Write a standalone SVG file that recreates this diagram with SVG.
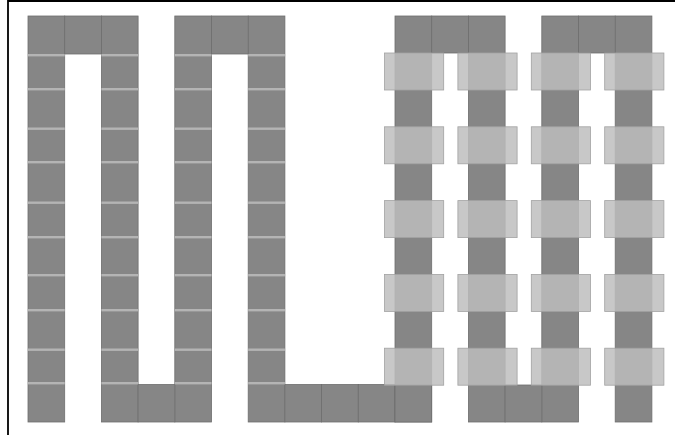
<svg xmlns="http://www.w3.org/2000/svg" width="675" height="435" viewBox="0 0 675 435">
  <style>
    .blk { fill: #868686; stroke: #6e6e6e; stroke-width: 0.8; }
    .lt { fill: #b4b4b4; }
    .ov { fill: #bdbdbd; fill-opacity: 0.84; stroke: #a2a2a2; stroke-width: 0.8; }
  </style>
  <rect x="0" y="0" width="675" height="435" fill="#ffffff"/>
  <path d="M8,435 V1 H675" fill="none" stroke="#000000" stroke-width="1.8"/>

  <g id="left-serpentine">
    <rect class="blk" x="28" y="16" width="36.7" height="406"/>
    <rect class="blk" x="101.4" y="16" width="36.7" height="406"/>
    <rect class="blk" x="174.8" y="16" width="36.7" height="406"/>
    <rect class="blk" x="248.2" y="16" width="36.7" height="406"/>
    <rect class="blk" x="64.7" y="16" width="36.7" height="38"/>
    <rect class="blk" x="138.1" y="384.5" width="36.7" height="37.5"/>
    <rect class="blk" x="211.5" y="16" width="36.7" height="38"/>
    <rect class="blk" x="284.9" y="384.5" width="36.7" height="37.5"/>
    <rect class="blk" x="321.6" y="384.5" width="36.7" height="37.5"/>
    <rect class="blk" x="358.3" y="384.5" width="36.7" height="37.5"/>
    <g id="light-lines">
      <g id="ll0">
        <rect class="lt" x="28" y="54" width="36.7" height="2.4"/>
        <rect class="lt" x="28" y="88" width="36.7" height="2.4"/>
        <rect class="lt" x="28" y="127.5" width="36.7" height="2.4"/>
        <rect class="lt" x="28" y="161" width="36.7" height="2.4"/>
        <rect class="lt" x="28" y="201.5" width="36.7" height="2.4"/>
        <rect class="lt" x="28" y="236" width="36.7" height="2.4"/>
        <rect class="lt" x="28" y="274" width="36.7" height="2.4"/>
        <rect class="lt" x="28" y="309" width="36.7" height="2.4"/>
        <rect class="lt" x="28" y="348.5" width="36.7" height="2.4"/>
        <rect class="lt" x="28" y="382" width="36.7" height="2.4"/>
      </g>
      <use href="#ll0" x="73.4"/>
      <use href="#ll0" x="146.8"/>
      <use href="#ll0" x="220.2"/>
    </g>
  </g>

  <g id="right-serpentine">
    <rect class="blk" x="395" y="16" width="36.7" height="406"/>
    <rect class="blk" x="468.4" y="16" width="36.7" height="406"/>
    <rect class="blk" x="541.8" y="16" width="36.7" height="406"/>
    <rect class="blk" x="615.2" y="16" width="36.7" height="406"/>
    <rect class="blk" x="431.7" y="16" width="36.7" height="37"/>
    <rect class="blk" x="505.1" y="385" width="36.7" height="37"/>
    <rect class="blk" x="578.5" y="16" width="36.7" height="37"/>
    <rect class="blk" x="395" y="385" width="36.7" height="37"/>
    <g id="overlays">
      <g id="ovc">
        <rect class="ov" x="384.5" y="53" width="59.2" height="37"/>
        <rect class="ov" x="384.5" y="126.8" width="59.2" height="37"/>
        <rect class="ov" x="384.5" y="200.6" width="59.2" height="37"/>
        <rect class="ov" x="384.5" y="274.4" width="59.2" height="37"/>
        <rect class="ov" x="384.5" y="348.2" width="59.2" height="37"/>
      </g>
      <use href="#ovc" x="73.4"/>
      <use href="#ovc" x="146.8"/>
      <use href="#ovc" x="220.2"/>
    </g>
  </g>
</svg>
